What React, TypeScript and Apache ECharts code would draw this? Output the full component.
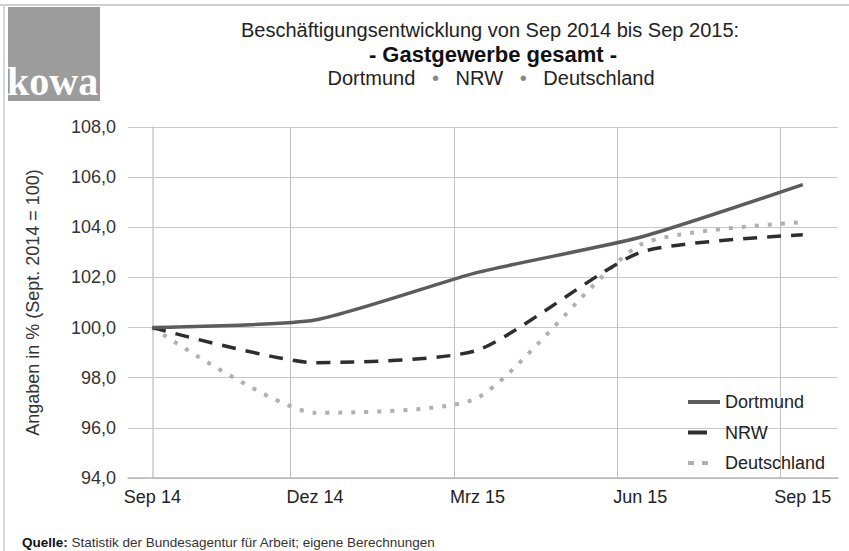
import React, { useEffect, useRef } from "react";
import * as echarts from "echarts";

const categories = ["Sep 14", "Dez 14", "Mrz 15", "Jun 15", "Sep 15"];
const monthIndex = [0, 3, 6, 9, 12];
const dortmund = [100.0, 100.3, 102.2, 103.6, 105.7];
const nrw = [100.0, 98.6, 99.1, 103.0, 103.7];
const deutschland = [100.0, 96.6, 97.2, 103.3, 104.2];
const verticalGridMonths = [2.55, 5.57, 8.58, 11.58];

const FONT = "'Liberation Sans', Arial, sans-serif";

const pairs = (vals: number[]) => vals.map((v, i) => [monthIndex[i], v]);

export default function App() {
  const ref = useRef<HTMLDivElement>(null);
  useEffect(() => {
    if (!ref.current) return;
    const chart = echarts.init(ref.current, null, { renderer: "svg" });
    chart.setOption({
      animation: false,
      backgroundColor: "#ffffff",
      textStyle: { fontFamily: FONT },
      grid: { left: 128, top: 127, right: 11, bottom: 73, containLabel: false },
      legend: {
        orient: "vertical",
        left: 683,
        top: 388,
        itemWidth: 32,
        itemHeight: 4,
        itemGap: 12.5,
        textStyle: { fontSize: 18, color: "#222", fontFamily: FONT },
        data: [
          { name: "Dortmund", icon: "path://M0,0H32V4H0Z", itemStyle: { color: "#5c5c5c" } },
          { name: "NRW", icon: "path://M32,4M0,0H19V4H0Z", itemStyle: { color: "#2e2e2e" } },
          {
            name: "Deutschland",
            icon: "path://M32,4M0,0H6V4H0ZM14,0H20V4H14Z",
            itemStyle: { color: "#b0b0b0" },
          },
        ],
      },
      xAxis: {
        type: "value",
        min: -0.45,
        max: 12.65,
        axisLine: { show: true, lineStyle: { color: "#b8b8b8", width: 1.5 } },
        axisTick: { show: false },
        splitLine: { show: false },
        axisLabel: {
          customValues: monthIndex,
          formatter: (v: number) => categories[monthIndex.indexOf(Math.round(v))] ?? "",
          fontSize: 18,
          color: "#222",
          margin: 10,
          fontFamily: FONT,
        },
      },
      yAxis: {
        type: "value",
        min: 94,
        max: 108,
        interval: 2,
        name: "Angaben in % (Sept. 2014 = 100)",
        nameLocation: "middle",
        nameGap: 86,
        nameTextStyle: { fontSize: 18, color: "#333", fontFamily: FONT },
        axisLine: { show: true, lineStyle: { color: "#c8c8c8", width: 1.5 } },
        axisTick: { show: true, length: 6, lineStyle: { color: "#c8c8c8" } },
        splitLine: { show: true, lineStyle: { color: "#c8c8c8", width: 1.2 } },
        axisLabel: {
          formatter: (v: number) => v.toFixed(1).replace(".", ","),
          fontSize: 18,
          color: "#333",
          margin: 12,
          fontFamily: FONT,
        },
      },
      series: [
        {
          name: "Dortmund",
          type: "line",
          data: pairs(dortmund),
          smooth: 0.2,
          symbol: "none",
          lineStyle: { color: "#5c5c5c", width: 3.5, type: "solid" },
          itemStyle: { color: "#5c5c5c" },
          z: 4,
          markLine: {
            silent: true,
            symbol: "none",
            label: { show: false },
            lineStyle: { color: "#c0c0c0", width: 1, type: "solid" },
            data: verticalGridMonths.map((m) => ({ xAxis: m })),
            z: 1,
          },
        },
        {
          name: "NRW",
          type: "line",
          data: pairs(nrw),
          smooth: 0.2,
          symbol: "none",
          lineStyle: { color: "#2e2e2e", width: 3.5, type: [14, 10] },
          itemStyle: { color: "#2e2e2e" },
          z: 3,
        },
        {
          name: "Deutschland",
          type: "line",
          data: pairs(deutschland),
          smooth: 0.2,
          symbol: "none",
          lineStyle: { color: "#b0b0b0", width: 4, type: [4, 9] },
          itemStyle: { color: "#b0b0b0" },
          z: 2,
        },
      ],
      graphic: [
        { type: "line", shape: { x1: 0, y1: 5, x2: 849, y2: 5 }, style: { stroke: "#d0d0d0", lineWidth: 2 } },
        { type: "line", shape: { x1: 4, y1: 5, x2: 4, y2: 551 }, style: { stroke: "#d8d8d8", lineWidth: 2 } },
        { type: "rect", shape: { x: 8, y: 7, width: 92, height: 94 }, style: { fill: "#9c9c9c" } },
        {
          type: "text",
          x: 7,
          y: 101,
          style: {
            text: "kowa",
            fill: "#ffffff",
            font: "bold 40px 'Liberation Serif', 'DejaVu Serif', serif",
            verticalAlign: "bottom",
          },
        },
        {
          type: "text",
          x: 490,
          y: 30,
          style: {
            text: "Beschäftigungsentwicklung von Sep 2014 bis Sep 2015:",
            fill: "#222",
            font: "20px " + FONT,
            textAlign: "center",
            verticalAlign: "middle",
          },
        },
        {
          type: "text",
          x: 493,
          y: 54,
          style: {
            text: "- Gastgewerbe gesamt -",
            fill: "#111",
            font: "bold 22px " + FONT,
            textAlign: "center",
            verticalAlign: "middle",
          },
        },
        {
          type: "text",
          x: 491,
          y: 78,
          style: {
            text: "Dortmund   {d|•}   NRW   {d|•}   Deutschland",
            fill: "#222",
            font: "20px " + FONT,
            textAlign: "center",
            verticalAlign: "middle",
            rich: { d: { fill: "#888", fontSize: 20, fontFamily: FONT } },
          },
        },
        {
          type: "text",
          x: 22,
          y: 542,
          style: {
            text: "{b|Quelle:} Statistik der Bundesagentur für Arbeit; eigene Berechnungen",
            fill: "#333",
            font: "13.5px " + FONT,
            verticalAlign: "middle",
            rich: { b: { fontWeight: "bold", fontSize: 13.5, fill: "#111", fontFamily: FONT } },
          },
        },
      ],
    });
    return () => chart.dispose();
  }, []);
  return (
    <div
      ref={ref}
      style={{ position: "fixed", left: 0, top: 0, width: 849, height: 551 }}
    />
  );
}
